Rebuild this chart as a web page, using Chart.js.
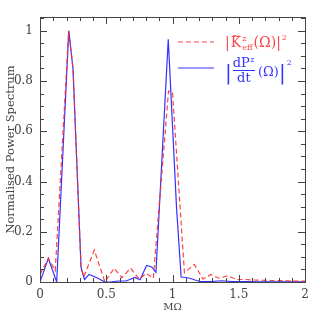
<!DOCTYPE html>
<html><head><meta charset="utf-8">
<script src="https://cdn.jsdelivr.net/npm/chart.js@4"></script>
<style>html,body{margin:0;padding:0;background:#fff;}canvas{display:block;}</style>
</head><body>
<canvas id="c" width="322" height="322"></canvas>
<script>
// ---- data ----
const blueX = [0, 0.063, 0.126, 0.217, 0.249, 0.31, 0.336, 0.37, 0.43, 0.49, 0.53, 0.59, 0.65, 0.717, 0.755, 0.805, 0.843, 0.875, 0.968, 1.03, 1.065, 1.10, 1.13, 1.17, 1.21, 1.29, 1.37, 1.45, 1.55, 1.65, 1.75, 1.85, 1.95, 2.0];
const blueY = [0, 0.094, 0, 1.0, 0.85, 0.057, 0.01, 0.03, 0.017, 0, 0, 0.004, 0.004, 0.018, 0.009, 0.066, 0.06, 0.038, 0.966, 0.30, 0.02, 0.018, 0.015, 0.008, 0.002, 0.002, 0.005, 0.002, 0.002, 0.001, 0.001, 0.001, 0.001, 0.001];
const redX = [0, 0.063, 0.115, 0.217, 0.249, 0.31, 0.33, 0.41, 0.49, 0.56, 0.617, 0.684, 0.75, 0.80, 0.855, 0.97, 1.0, 1.09, 1.165, 1.23, 1.29, 1.35, 1.42, 1.48, 1.55, 1.61, 1.68, 1.74, 1.81, 1.87, 1.94, 2.0];
const redY = [0.03, 0.094, 0.045, 1.0, 0.85, 0.056, 0.02, 0.127, 0.0, 0.055, 0.017, 0.055, 0.011, 0.035, 0.015, 0.76, 0.755, 0.037, 0.07, 0.012, 0.03, 0.015, 0.025, 0.01, 0.01, 0.008, 0.007, 0.006, 0.006, 0.005, 0.004, 0.004];
const xTickValues = [0, 0.5, 1, 1.5, 2];
const xTickLabels = ['0', '0.5', '1', '1.5', '2'];
const yTickValues = [0, 0.2, 0.4, 0.6, 0.8, 1];
const yTickLabels = ['0', '0.2', '0.4', '0.6', '0.8', '1'];
const xRange = [0, 2];
const yRange = [0, 1.055];
const xMinorStep = 0.1, yMinorStep = 0.05;
const xTitle = 'MΩ';
const yTitle = 'Normalised Power Spectrum';

const RED = 'rgba(255,45,45,0.9)';
const BLUE = 'rgba(40,40,255,0.95)';
const AXIS = '#444';
const TXT = '#444';
const SERIF = '"DejaVu Serif", "Liberation Serif", serif';

const pts = (xs, ys) => xs.map((x, i) => ({x, y: ys[i]}));

const framePlugin = {
  id: 'frame',
  afterDraw(chart) {
    const ctx = chart.ctx, a = chart.chartArea;
    const xs = chart.scales.x, ys = chart.scales.y;
    ctx.save();
    ctx.strokeStyle = AXIS; ctx.lineWidth = 1;
    ctx.strokeRect(Math.round(a.left) + 0.5, Math.round(a.top) + 0.5, Math.round(a.right - a.left), Math.round(a.bottom - a.top));
    ctx.beginPath();
    const nx = Math.round((xRange[1] - xRange[0]) / xMinorStep);
    for (let i = 0; i <= nx; i++) {
      const v = xRange[0] + i * xMinorStep;
      const major = xTickValues.some(t => Math.abs(t - v) < 1e-6);
      const L = major ? 7 : 4;
      const px = Math.round(xs.getPixelForValue(v)) + 0.5;
      ctx.moveTo(px, a.bottom); ctx.lineTo(px, a.bottom - L);
      ctx.moveTo(px, a.top); ctx.lineTo(px, a.top + L);
    }
    const ny = Math.floor((yRange[1] - yRange[0]) / yMinorStep + 1e-6);
    for (let i = 0; i <= ny; i++) {
      const v = yRange[0] + i * yMinorStep;
      const major = yTickValues.some(t => Math.abs(t - v) < 1e-6);
      const L = major ? 7 : 4;
      const py = Math.round(ys.getPixelForValue(v)) + 0.5;
      ctx.moveTo(a.left, py); ctx.lineTo(a.left + L, py);
      ctx.moveTo(a.right, py); ctx.lineTo(a.right - L, py);
    }
    ctx.stroke();

    // legend
    const lx0 = a.right - 127, lx1 = a.right - 91, tx = a.right - 80;
    const r1 = a.top + 25, r2 = a.top + 51;
    ctx.lineWidth = 1.2;
    ctx.strokeStyle = RED; ctx.setLineDash([5, 3]);
    ctx.beginPath(); ctx.moveTo(lx0, r1); ctx.lineTo(lx1, r1); ctx.stroke();
    ctx.strokeStyle = BLUE; ctx.setLineDash([]);
    ctx.beginPath(); ctx.moveTo(lx0, r2); ctx.lineTo(lx1, r2); ctx.stroke();

    ctx.textBaseline = 'alphabetic'; ctx.textAlign = 'left';
    // row 1: |K~^z_eff(Ω)|^2
    ctx.fillStyle = RED;
    let x = tx, b = r1 + 5;
    ctx.font = '14px ' + SERIF;
    ctx.fillText('|', x, b); x += ctx.measureText('|').width + 1;
    const kw = ctx.measureText('K').width;
    ctx.fillText('K', x, b);
    ctx.font = '10px ' + SERIF;
    ctx.textAlign = 'center';
    ctx.fillText('~', x + kw / 2, b - 8);
    ctx.textAlign = 'left';
    x += kw + 1;
    ctx.font = '8px ' + SERIF;
    ctx.fillText('z', x, b - 6);
    ctx.fillText('eff', x, b + 3);
    x += ctx.measureText('eff').width + 1;
    ctx.font = '14px ' + SERIF;
    ctx.fillText('(Ω)|', x, b); x += ctx.measureText('(Ω)|').width;
    ctx.font = '8px ' + SERIF;
    ctx.fillText('2', x + 1, b - 7);

    // row 2: |dP^z/dt (Ω)|^2
    ctx.fillStyle = BLUE; ctx.strokeStyle = BLUE;
    x = tx; b = r2 + 8;
    ctx.font = '20px ' + SERIF;
    ctx.fillText('|', x, b + 3); x += ctx.measureText('|').width + 1;
    ctx.font = '13px ' + SERIF;
    const nw = ctx.measureText('dP').width;
    ctx.font = '8px ' + SERIF;
    const zw = ctx.measureText('z').width;
    const fw = nw + zw + 1;
    ctx.font = '13px ' + SERIF;
    ctx.fillText('dP', x, r2 - 1);
    ctx.font = '8px ' + SERIF;
    ctx.fillText('z', x + nw + 0.5, r2 - 6);
    ctx.lineWidth = 1;
    ctx.beginPath(); ctx.moveTo(x, r2 + 2.5); ctx.lineTo(x + fw, r2 + 2.5); ctx.stroke();
    ctx.font = '13px ' + SERIF;
    ctx.textAlign = 'center';
    ctx.fillText('dt', x + fw / 2, r2 + 14);
    ctx.textAlign = 'left';
    x += fw + 3;
    ctx.fillText('(Ω)', x, r2 + 8); x += ctx.measureText('(Ω)').width;
    ctx.font = '20px ' + SERIF;
    ctx.fillText('|', x, b + 3); x += ctx.measureText('|').width;
    ctx.font = '8px ' + SERIF;
    ctx.fillText('2', x + 1, r2 - 3);
    ctx.restore();
  }
};

new Chart(document.getElementById('c'), {
  type: 'line',
  data: {
    datasets: [
      { label: 'Keff', data: pts(redX, redY), borderColor: RED, borderWidth: 1.2, borderDash: [5, 3], pointRadius: 0, tension: 0, order: 0 },
      { label: 'dPdt', data: pts(blueX, blueY), borderColor: BLUE, borderWidth: 1.2, pointRadius: 0, tension: 0, order: 1 }
    ]
  },
  options: {
    responsive: false, animation: false, devicePixelRatio: 1,
    layout: { padding: { left: 0, top: 17, right: 17, bottom: 0 } },
    plugins: { legend: { display: false }, tooltip: { enabled: false } },
    scales: {
      x: {
        type: 'linear', min: xRange[0], max: xRange[1],
        afterBuildTicks: s => { s.ticks = xTickValues.map(v => ({value: v})); },
        afterFit: s => { s.height = 40; },
        grid: { display: false, drawTicks: false },
        border: { display: false },
        ticks: { padding: 6, color: TXT, font: { family: SERIF, size: 12 }, callback: (v, i) => xTickLabels[i], maxRotation: 0, autoSkip: false },
        title: { display: true, text: xTitle, color: TXT, font: { family: SERIF, size: 10 }, padding: { top: 0, bottom: 9 } }
      },
      y: {
        type: 'linear', min: yRange[0], max: yRange[1],
        afterBuildTicks: s => { s.ticks = yTickValues.map(v => ({value: v})); },
        afterFit: s => { s.width = 40; },
        grid: { display: false, drawTicks: false },
        border: { display: false },
        ticks: { padding: 7, color: TXT, font: { family: SERIF, size: 12 }, callback: (v, i) => yTickLabels[i], autoSkip: false },
        title: { display: true, text: yTitle, color: TXT, font: { family: SERIF, size: 11.5 }, padding: { top: 4, bottom: 0 } }
      }
    }
  },
  plugins: [framePlugin]
});
</script>
</body></html>
